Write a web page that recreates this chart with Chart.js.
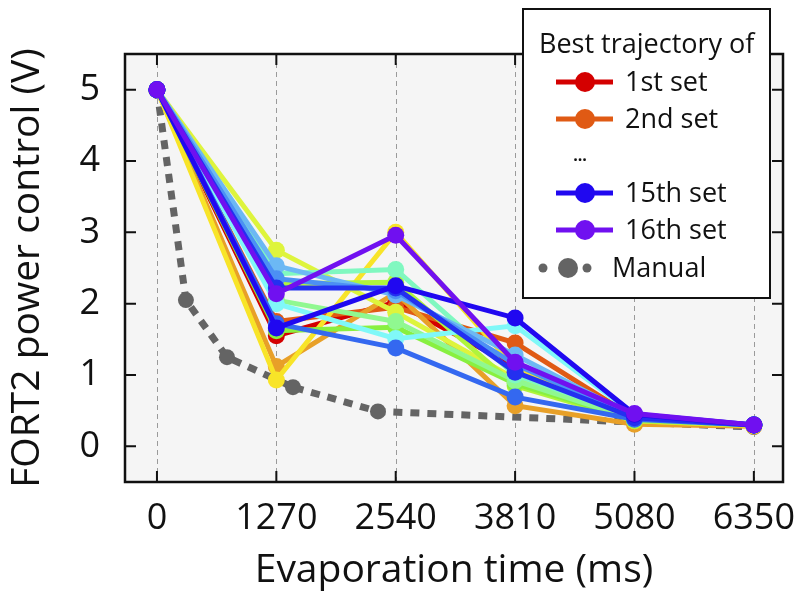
<!DOCTYPE html>
<html>
<head>
<meta charset="utf-8">
<script src="https://cdn.jsdelivr.net/npm/chart.js@4.4.0/dist/chart.umd.min.js"></script>
<style>
    body { margin: 0; background: #fff; }
    #wrap { width: 802px; height: 594px; }
</style>
</head>
<body>
<div id="wrap"><canvas id="myChart" width="802" height="594"></canvas></div>
<script>
// evaporation time steps (ms)
const times = [0, 1270, 2540, 3810, 5080, 6350];

// best trajectory of each set (V)
const set1 = [5, 1.55, 2.02, 1.12, 0.40, 0.30];
const set2 = [5, 1.75, 1.95, 1.45, 0.40, 0.30];
const set3 = [5, 1.12, 2.15, 0.57, 0.31, 0.28];
const set4 = [5, 0.93, 3.00, 1.10, 0.36, 0.29];
const set5 = [5, 2.75, 1.88, 0.95, 0.40, 0.30];
const set6 = [5, 2.28, 2.30, 0.85, 0.36, 0.30];
const set7 = [5, 1.62, 1.67, 0.88, 0.38, 0.30];
const set8 = [5, 2.05, 1.75, 0.92, 0.38, 0.30];
const set9 = [5, 2.42, 2.48, 1.00, 0.42, 0.30];
const set10 = [5, 2.00, 1.51, 1.69, 0.45, 0.30];
const set11 = [5, 2.53, 2.12, 1.28, 0.42, 0.30];
const set12 = [5, 2.35, 2.18, 1.15, 0.40, 0.30];
const set13 = [5, 1.72, 1.38, 0.69, 0.38, 0.30];
const set14 = [5, 2.22, 2.22, 1.04, 0.40, 0.30];
const set15 = [5, 1.66, 2.25, 1.80, 0.45, 0.30];
const set16 = [5, 2.14, 2.96, 1.18, 0.46, 0.30];
const sets = [set1, set2, set3, set4, set5, set6, set7, set8,
    set9, set10, set11, set12, set13, set14, set15, set16];

// manual trajectory
const manualTimes = [0, 308, 745, 1447, 2351, 6350];
const manualValues = [5, 2.05, 1.25, 0.83, 0.49, 0.27];

// axis ticks
const xTicks = [0, 1270, 2540, 3810, 5080, 6350];
const yTicks = [0, 1, 2, 3, 4, 5];

// rainbow colours, 1st set red -> 16th set purple
const setColors = ['#d40000', '#e05a14', '#e8a028', '#f8e428', '#def43c', '#b0f43c',
    '#88f040', '#90f890', '#80f8c0', '#80f8f8', '#6cb8f4', '#4c90f4',
    '#3468f0', '#2430f0', '#2008f0', '#7010f0'];
const manualColor = '#646464';

var datasets = [];
for (let i = 0; i < sets.length; i++) {
    datasets.push({
        label: (i + 1) + ' set',
        data: times.map((t, k) => ({ x: t, y: sets[i][k] })),
        borderColor: setColors[i],
        backgroundColor: setColors[i],
        borderWidth: 5,
        pointRadius: 8.5,
        pointBorderWidth: 0,
        order: sets.length - i
    });
}
datasets.push({
    label: 'Manual',
    data: manualTimes.map((t, k) => ({ x: t, y: manualValues[k] })),
    borderColor: manualColor,
    backgroundColor: manualColor,
    borderWidth: 7,
    borderDash: [9, 8],
    pointRadius: 8,
    pointBorderWidth: 0,
    order: 50
});

const fontFamily = "'Open Sans', sans-serif";

// plot background, dashed grid, frame with inward ticks, and the legend box
const decorations = {
    id: 'decorations',
    beforeDatasetsDraw(chart) {
        const { ctx, chartArea: a, scales } = chart;
        ctx.save();
        ctx.fillStyle = '#f5f5f5';
        ctx.fillRect(a.left, a.top, a.right - a.left, a.bottom - a.top);
        ctx.strokeStyle = '#9a9a9a';
        ctx.lineWidth = 1;
        ctx.setLineDash([5, 4]);
        xTicks.forEach(v => {
            const x = Math.round(scales.x.getPixelForValue(v)) + 0.5;
            ctx.beginPath();
            ctx.moveTo(x, a.top);
            ctx.lineTo(x, a.bottom);
            ctx.stroke();
        });
        ctx.restore();
    },
    afterDraw(chart) {
        const { ctx, chartArea: a, scales } = chart;
        ctx.save();
        ctx.strokeStyle = '#111';
        ctx.lineWidth = 2;
        const tl = 11;
        xTicks.forEach(v => {
            const x = scales.x.getPixelForValue(v);
            ctx.beginPath();
            ctx.moveTo(x, a.bottom); ctx.lineTo(x, a.bottom - tl);
            ctx.moveTo(x, a.top); ctx.lineTo(x, a.top + tl);
            ctx.stroke();
        });
        yTicks.forEach(v => {
            const y = scales.y.getPixelForValue(v);
            ctx.beginPath();
            ctx.moveTo(a.left, y); ctx.lineTo(a.left + tl, y);
            ctx.moveTo(a.right, y); ctx.lineTo(a.right - tl, y);
            ctx.stroke();
        });
        ctx.lineWidth = 2.5;
        ctx.strokeRect(a.left, a.top, a.right - a.left, a.bottom - a.top);

        // legend
        const bx = 523, by = 9, bw = 247, bh = 289;
        ctx.fillStyle = '#fff';
        ctx.fillRect(bx, by, bw, bh);
        ctx.lineWidth = 2;
        ctx.strokeStyle = '#111';
        ctx.strokeRect(bx, by, bw, bh);

        ctx.fillStyle = '#111';
        ctx.font = '27px ' + fontFamily;
        ctx.textBaseline = 'middle';
        ctx.textAlign = 'left';
        ctx.fillText('Best trajectory of', 539, 45);

        const rows = [
            { label: '1st set', color: setColors[0], y: 82 },
            { label: '2nd set', color: setColors[1], y: 119 },
            { label: '15th set', color: setColors[14], y: 193 },
            { label: '16th set', color: setColors[15], y: 230 }
        ];
        rows.forEach(r => {
            ctx.strokeStyle = r.color;
            ctx.fillStyle = r.color;
            ctx.lineWidth = 5;
            ctx.beginPath();
            ctx.moveTo(556, r.y); ctx.lineTo(613, r.y);
            ctx.stroke();
            ctx.beginPath();
            ctx.arc(585, r.y, 10, 0, Math.PI * 2);
            ctx.fill();
            ctx.fillStyle = '#111';
            ctx.fillText(r.label, 625, r.y + 1);
        });
        ctx.font = 'bold 16px ' + fontFamily;
        ctx.textAlign = 'center';
        ctx.fillText('...', 580, 156);

        // manual entry
        ctx.fillStyle = manualColor;
        [[543, 4.5], [568, 10], [587, 4.5]].forEach(d => {
            ctx.beginPath();
            ctx.arc(d[0], 268, d[1], 0, Math.PI * 2);
            ctx.fill();
        });
        ctx.fillStyle = '#111';
        ctx.font = '27px ' + fontFamily;
        ctx.textAlign = 'left';
        ctx.fillText('Manual', 612, 269);
        ctx.restore();
    }
};

var ctx = document.getElementById('myChart').getContext('2d');
var chart = new Chart(ctx, {
    type: 'line',
    data: { datasets: datasets },
    options: {
        responsive: false,
        animation: false,
        events: [],
        layout: { padding: { left: 0, top: 54, right: 19, bottom: 0 } },
        elements: { line: { tension: 0 } },
        plugins: {
            legend: { display: false },
            tooltip: { enabled: false }
        },
        scales: {
            x: {
                type: 'linear',
                min: -340,
                max: 6660,
                afterBuildTicks: s => { s.ticks = xTicks.map(v => ({ value: v })); },
                afterFit: s => { s.height = 112; s.paddingLeft = 0; s.paddingRight = 0; },
                grid: { display: false, drawTicks: false },
                border: { display: false },
                ticks: {
                    color: '#111',
                    padding: 15,
                    maxRotation: 0,
                    font: { family: fontFamily, size: 36 },
                    callback: v => String(v)
                },
                title: {
                    display: true,
                    text: 'Evaporation time (ms)',
                    color: '#111',
                    font: { family: fontFamily, size: 39 },
                    padding: { top: 0, bottom: 0 }
                }
            },
            y: {
                min: -0.5,
                max: 5.5,
                afterBuildTicks: s => { s.ticks = yTicks.map(v => ({ value: v })); },
                afterFit: s => { s.width = 125; s.paddingTop = 0; s.paddingBottom = 0; },
                grid: { display: false, drawTicks: false },
                border: { display: false },
                ticks: {
                    color: '#111',
                    padding: 25,
                    font: { family: fontFamily, size: 36 },
                    callback: v => String(v)
                },
                title: {
                    display: true,
                    text: 'FORT2 power control (V)',
                    color: '#111',
                    font: { family: fontFamily, size: 39 },
                    padding: { top: 4, bottom: 0 }
                }
            }
        }
    },
    plugins: [decorations]
});
</script>
</body>
</html>
